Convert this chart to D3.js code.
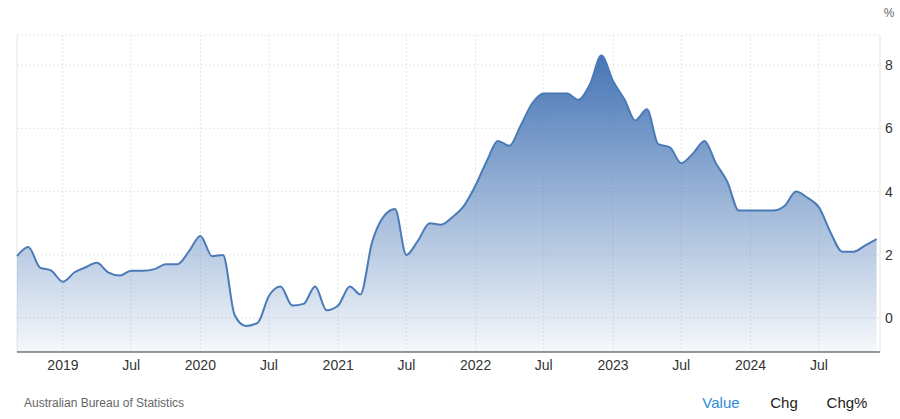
<!DOCTYPE html>
<html><head><meta charset="utf-8">
<script src="https://cdn.jsdelivr.net/npm/d3@7/dist/d3.min.js"></script>
<style>body{margin:0;background:#fff;font-family:Arial,"Liberation Sans",sans-serif}</style>
</head><body><svg id="c" width="900" height="419"></svg>
<script>
const startMonth = "2018-09";
const values = [1.96,2.25,1.6,1.5,
1.15,1.45,1.6,1.75,1.45,1.35,1.5,1.5,1.55,1.7,1.7,2.1,
2.6,1.96,2.0,0.1,-0.25,-0.15,0.7,1.0,0.4,0.45,1.0,0.25,
0.4,1.0,0.75,2.4,3.2,3.45,2.0,2.45,3.0,2.95,3.2,3.55,
4.2,5.0,5.6,5.45,6.1,6.8,7.1,7.1,7.1,6.9,7.4,8.3,
7.5,6.9,6.25,6.6,5.5,5.4,4.9,5.2,5.6,4.9,4.3,3.4,
3.4,3.4,3.4,3.55,4.0,3.8,3.5,2.7,2.1,2.1,2.3,2.5];
const yTicks = [0,2,4,6,8];
const xTickLabels = ["2019","Jul","2020","Jul","2021","Jul","2022","Jul","2023","Jul","2024","Jul"];
const xTickDates = ["2019-01","2019-07","2020-01","2020-07","2021-01","2021-07","2022-01","2022-07","2023-01","2023-07","2024-01","2024-07"];
const legend = ["Value","Chg","Chg%"];
const source = "Australian Bureau of Statistics";

const parse = d3.timeParse("%Y-%m");
const s0 = parse(startMonth);
const data = values.map((v,i)=>({d:d3.timeMonth.offset(s0,i), v}));
const svg = d3.select("#c");
const L=17,R=880,T=35,B=352;
const x = d3.scaleTime().domain([s0, new Date(2024,11,10)]).range([L,R]);
const y = d3.scaleLinear().domain([-1.07,8.95]).range([B,T]);

const defs = svg.append("defs");
const g = defs.append("linearGradient").attr("id","gr").attr("x1",0).attr("x2",0).attr("y1",0).attr("y2",1)
 .attr("gradientUnits","userSpaceOnUse").attr("y1",y(8.3)).attr("y2",B);
g.append("stop").attr("offset",0).attr("stop-color","#4675b5");
g.append("stop").attr("offset",1).attr("stop-color","#4675b5").attr("stop-opacity",0.05);

// grid
svg.append("g").selectAll("line").data(yTicks).join("line")
 .attr("x1",L).attr("x2",R).attr("y1",d=>y(d)).attr("y2",d=>y(d))
 .attr("stroke","#e6e6e6").attr("stroke-dasharray","2,2");
svg.append("g").selectAll("line").data(xTickDates).join("line")
 .attr("x1",d=>x(parse(d))).attr("x2",d=>x(parse(d))).attr("y1",T).attr("y2",B)
 .attr("stroke","#e6e6e6").attr("stroke-dasharray","2,2");
svg.append("line").attr("x1",L).attr("x2",L).attr("y1",T).attr("y2",B).attr("stroke","#e6e6e6");
svg.append("line").attr("x1",R).attr("x2",R).attr("y1",T).attr("y2",B).attr("stroke","#e6e6e6");
svg.append("line").attr("x1",L).attr("x2",R).attr("y1",T).attr("y2",T).attr("stroke","#e6e6e6").attr("stroke-dasharray","2,2");

const curve = d3.curveMonotoneX;
svg.append("path").datum(data).attr("fill","url(#gr)")
 .attr("d",d3.area().x(d=>x(d.d)).y0(B).y1(d=>y(d.v)).curve(curve));
svg.append("path").datum(data).attr("fill","none").attr("stroke","#4a7bb7").attr("stroke-width",2)
 .attr("d",d3.line().x(d=>x(d.d)).y(d=>y(d.v)).curve(curve));

svg.append("line").attr("x1",L).attr("x2",R).attr("y1",B).attr("y2",B).attr("stroke","#333");

svg.append("g").selectAll("text").data(xTickDates).join("text")
 .attr("x",d=>x(parse(d))).attr("y",370).attr("text-anchor","middle")
 .attr("font-size",14).attr("fill","#333").text((d,i)=>xTickLabels[i]);
svg.append("g").selectAll("text").data(yTicks).join("text")
 .attr("x",889).attr("y",d=>y(d)+5).attr("text-anchor","middle")
 .attr("font-size",14).attr("fill","#333").text(d=>d);
svg.append("text").attr("x",889).attr("y",17).attr("text-anchor","middle").attr("font-size",12).attr("fill","#666").text("%");
svg.append("text").attr("x",24).attr("y",407).attr("font-size",12).attr("fill","#666").text(source);
const lx=[721,784,847];
svg.append("g").selectAll("text").data(legend).join("text")
 .attr("x",(d,i)=>lx[i]).attr("y",408).attr("text-anchor","middle").attr("font-size",15)
 .attr("fill",(d,i)=>i==0?"#2e8bd6":"#222").text(d=>d);
</script></body></html>
